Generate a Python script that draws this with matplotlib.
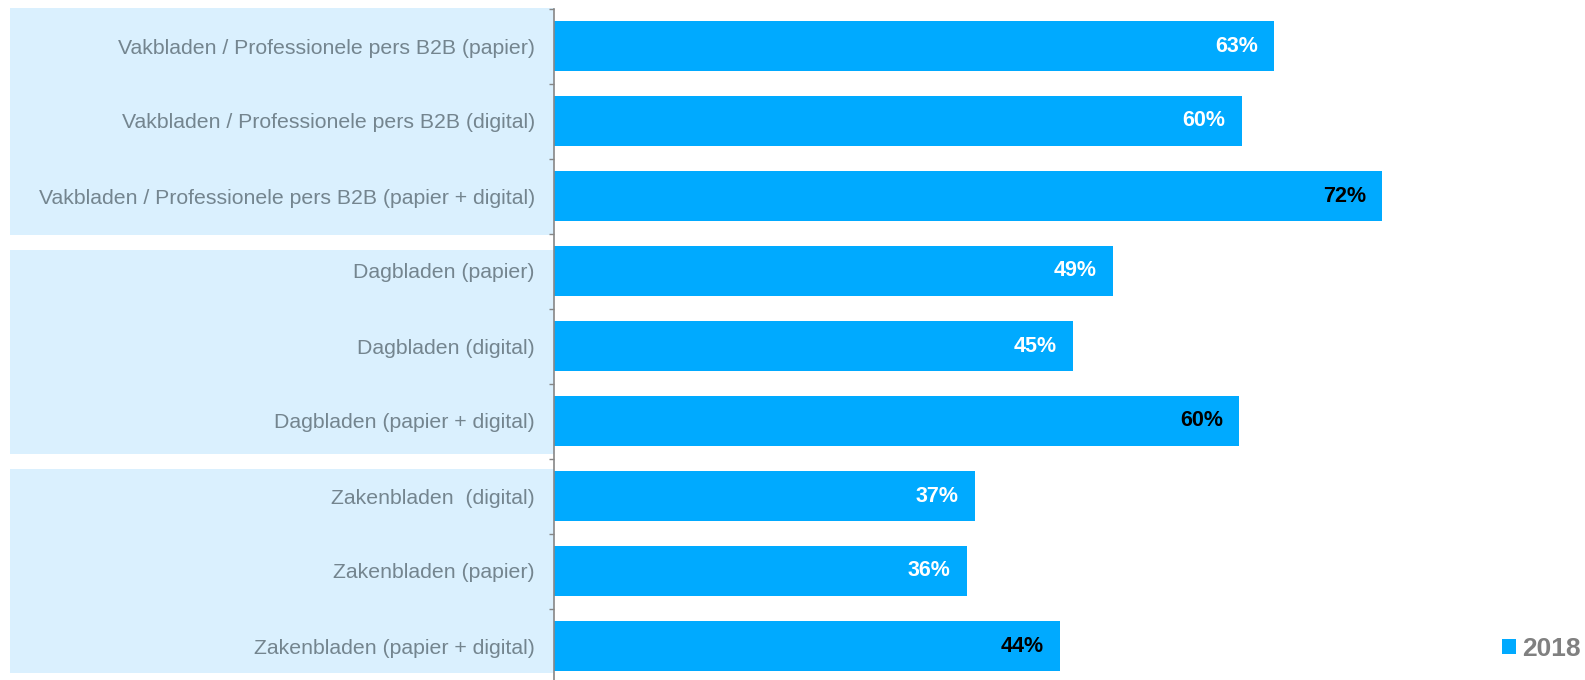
import matplotlib
matplotlib.use("Agg")
import matplotlib.pyplot as plt
from matplotlib.patches import Rectangle, Patch
from matplotlib.transforms import blended_transform_factory

# survey data (2018), one bar per medium
categories = [
    "Vakbladen / Professionele pers B2B (papier)",
    "Vakbladen / Professionele pers B2B (digital)",
    "Vakbladen / Professionele pers B2B (papier + digital)",
    "Dagbladen (papier)",
    "Dagbladen (digital)",
    "Dagbladen (papier + digital)",
    "Zakenbladen  (digital)",
    "Zakenbladen (papier)",
    "Zakenbladen (papier + digital)",
]
values_2018 = [62.6, 59.8, 72.0, 48.6, 45.1, 59.6, 36.6, 35.9, 44.0]
label_colors = ["white", "white", "black", "white", "white", "black",
                "white", "white", "black"]
# shaded panels behind each group of category labels (top, bottom in bar units)
panel_spans = [(-0.51, 2.52), (2.72, 5.44), (5.64, 8.36)]

BAR = "#00aaff"
PANEL = "#daf0fe"
TEXT = "#74858f"
AXIS = "#868686"

plt.rcParams["font.family"] = ["Liberation Sans", "DejaVu Sans"]

W, H = 1585, 680
fig = plt.figure(figsize=(W / 100, H / 100), dpi=100)
ax = fig.add_axes([554 / W, 1 - 683.5 / H, 920 / W, 675 / H])

y = list(range(len(categories)))
ax.barh(y, values_2018, height=0.667, color=BAR, label="2018", zorder=2)
ax.set_xlim(0, 80)
ax.set_ylim(len(categories) - 0.5, -0.5)

for i, v in enumerate(values_2018):
    ax.annotate(f"{v:.0f}%", xy=(v, i), xytext=(-11.5, 0),
                textcoords="offset points", ha="right", va="center",
                fontsize=15.5, fontweight="bold", color=label_colors[i])

trans = blended_transform_factory(fig.transFigure, ax.transData)
for top, bottom in panel_spans:
    ax.add_patch(Rectangle((10 / W, top), (554 - 10) / W, bottom - top,
                           transform=trans, facecolor=PANEL, edgecolor="none",
                           clip_on=False, zorder=0))

for side in ["top", "right", "bottom"]:
    ax.spines[side].set_visible(False)
ax.spines["left"].set_color(AXIS)
ax.spines["left"].set_linewidth(1.2)
ax.spines["left"].set_zorder(3)

ax.set_yticks(y)
ax.set_yticklabels(categories, fontsize=15.3, color=TEXT)
ax.tick_params(axis="y", which="major", length=0, pad=13.7)
ax.set_yticks([i - 0.5 for i in range(len(categories) + 1)], minor=True)
ax.tick_params(axis="y", which="minor", length=3.6, width=1, color=AXIS)
ax.set_xticks([])
ax.patch.set_alpha(0)

fig.legend(handles=[Patch(facecolor=BAR, label="2018")],
           loc="center right", bbox_to_anchor=(1581 / W, 1 - 649 / H),
           frameon=False, borderpad=0, borderaxespad=0,
           handlelength=0.53, handleheight=0.53, handletextpad=0.25,
           prop={"size": 19, "weight": "bold"}, labelcolor="#808080")

fig.savefig("out.png", dpi=100)
